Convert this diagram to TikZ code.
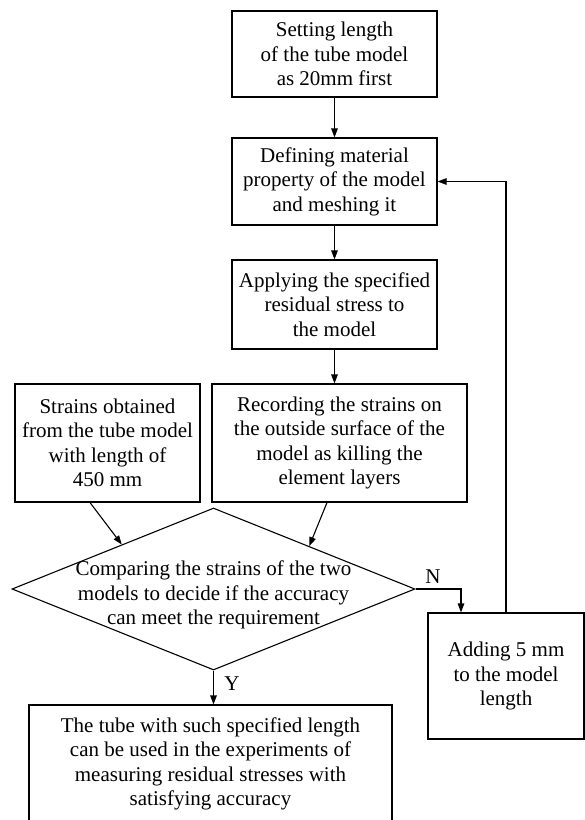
\documentclass[tikz,border=0pt]{standalone}
\usepackage{fontspec}
\setmainfont{Liberation Serif}
\usetikzlibrary{arrows.meta,shapes.geometric,calc}
\begin{document}
\begin{tikzpicture}[x=1pt,y=-1pt,
  every node/.style={font=\fontsize{21}{24.5}\selectfont},
  box/.style={draw,line width=1.1pt,align=center,inner sep=0pt},
  conn/.style={line width=1.1pt,-{Triangle[length=9pt,width=6.5pt]}},
  lbl/.style={inner sep=1pt}]
\useasboundingbox (0,0) rectangle (585,820);
\begin{scope}
\clip (0,0) rectangle (585,820);
\node[box,minimum width=205,minimum height=86] (b1) at (334.5,54) {Setting length\\of the tube model\\as 20mm first};
\node[box,minimum width=205,minimum height=87] (b2) at (334.5,181.5) {Defining material\\property of the model\\and meshing it};
\node[box,minimum width=205,minimum height=89] (b3) at (334.5,304.5) {Applying the specified\\residual stress to\\the model};
\node[box,minimum width=185,minimum height=118] (b4) at (107.5,443) {Strains obtained\\from the tube model\\with length of\\450 mm};
\node[box,minimum width=255,minimum height=118] (b5) at (339.5,443) {Recording the strains on\\the outside surface of the\\model as killing the\\element layers};
\node[draw,diamond,line width=1.1pt,minimum width=403,minimum height=162,inner sep=0pt] (dec) at (213.5,589) {};
\node[align=center,inner sep=0pt] (dectext) at (213.5,595) {Comparing the strains of the two\\models to decide if the accuracy\\can meet the requirement};
\node[box,minimum width=156,minimum height=126] (b6) at (506,676) {Adding 5 mm\\to the model\\length};
\node[box,minimum width=363,minimum height=118] (bot) at (210.5,764) {The tube with such specified length\\can be used in the experiments of\\measuring residual stresses with\\satisfying accuracy};

\draw[conn] (b1.south) -- (b2.north);
\draw[conn] (b2.south) -- (b3.north);
\draw[conn] (b3.south) -- (b3.south |- b5.north);
\coordinate (s4) at ($(b4.south)+(-17.5,0)$);
\coordinate (s5) at ($(b5.south)+(-12.5,0)$);
\draw[conn] (s4) -- ($(dec.north)!0.454!(dec.west)$);
\draw[conn] (s5) -- ($(dec.north)!0.474!(dec.east)$);
\coordinate (ntop) at ($(b6.north)+(-45,0)$);
\draw[conn] (dec.east) -| (ntop);
\node[lbl] (nlab) at (433,577) {N};
\draw[conn] (b6.north) |- (b2.east);
\draw[conn] (dec.south) -- (dec.south |- bot.north);
\node[lbl] (ylab) at (232,684) {Y};
\end{scope}
\end{tikzpicture}
\end{document}
